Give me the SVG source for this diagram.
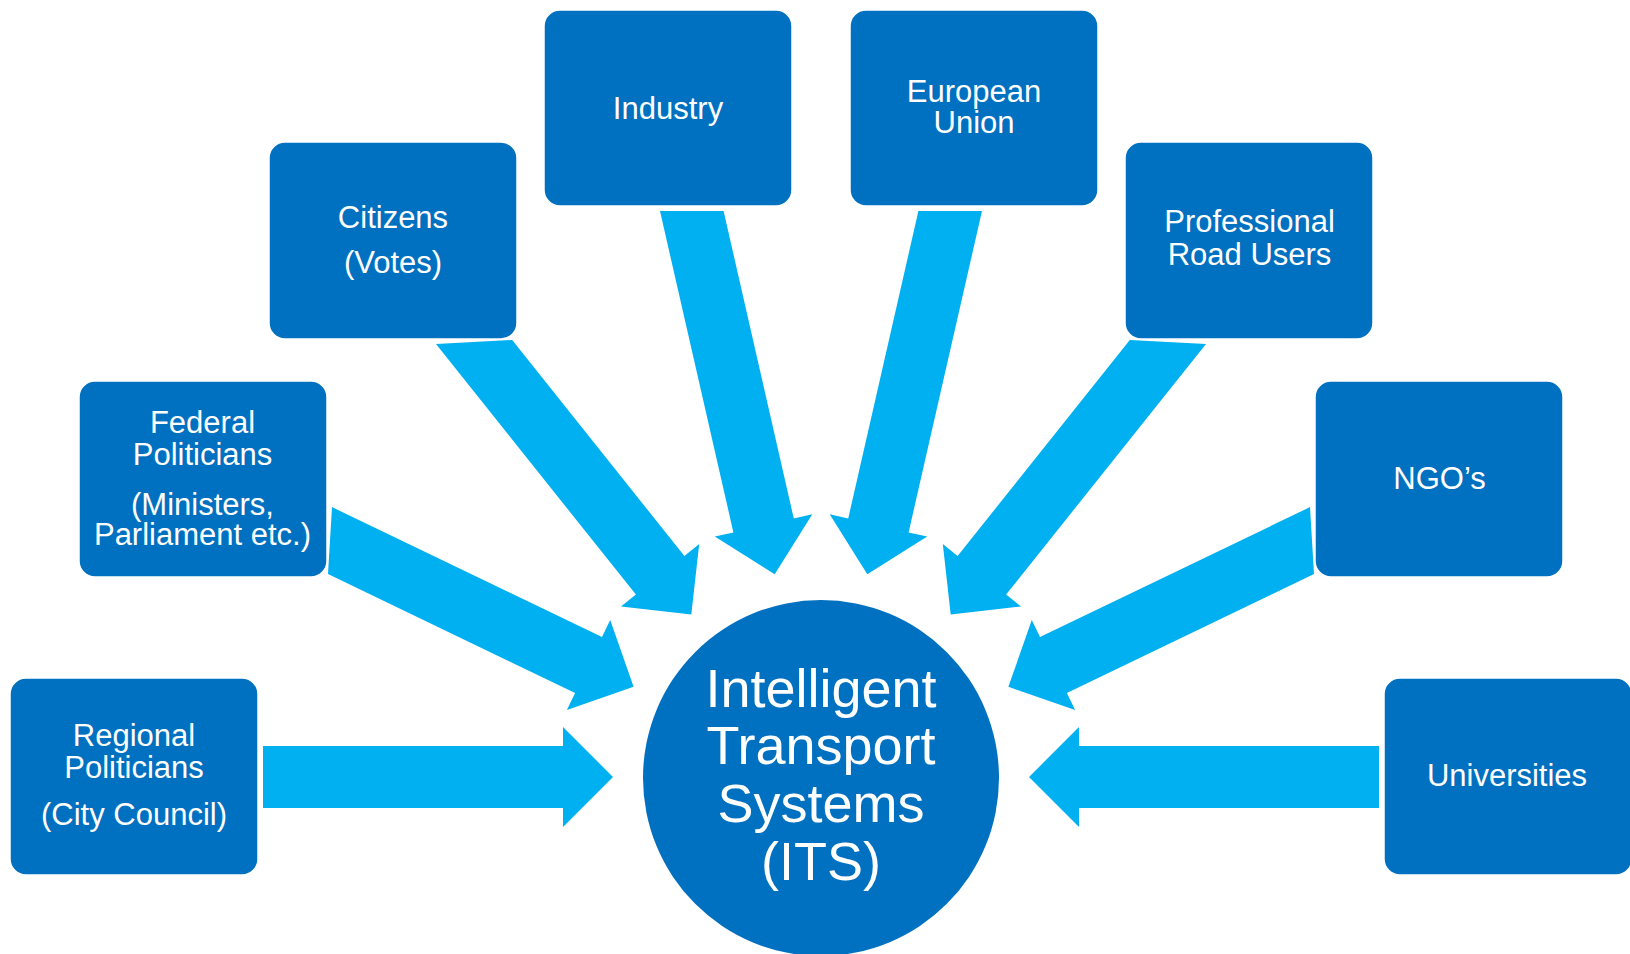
<svg xmlns="http://www.w3.org/2000/svg" width="1630" height="954" viewBox="0 0 1630 954">
<style>
.box{fill:#0070C0;stroke:#ffffff;stroke-width:1.5}
.arr{fill:#00B0F0}
.t{font-family:"Liberation Sans",Arial,sans-serif;font-size:31px;fill:#ffffff;text-anchor:middle}
.big{font-family:"Liberation Sans",Arial,sans-serif;font-size:54px;fill:#ffffff;text-anchor:middle}
</style>
<rect width="1630" height="954" fill="#ffffff"/>
<g id="connectors">
<polygon class="arr" points="263,746 563,746 563,727 613,777 563,827 563,808 263,808"/>
<polygon class="arr" points="332,507.1 602,637.1 610.2,620 633.6,686.8 566.9,710.1 575.1,693 328,574"/>
<polygon class="arr" points="436,344 512.2,340 684.4,556 699.2,544.1 691.3,614.4 621,606.5 635.9,594.6"/>
<polygon class="arr" points="660,211 723.6,211 793.8,518.6 812.3,514.3 774.7,574.2 714.8,536.6 733.4,532.4"/>
<polygon class="arr" points="982,211 918.4,211 848.2,518.6 829.7,514.3 867.3,574.2 927.2,536.6 908.6,532.4"/>
<polygon class="arr" points="1206,344 1129.8,340 957.6,556 942.8,544.1 950.7,614.4 1021,606.5 1006.1,594.6"/>
<polygon class="arr" points="1310,507.1 1040,637.1 1031.8,620 1008.4,686.8 1075.1,710.1 1066.9,693 1314,574"/>
<polygon class="arr" points="1379,746 1079,746 1079,727 1029,777 1079,827 1079,808 1379,808"/>
</g>
<g id="its">
<circle cx="821" cy="778" r="178" fill="#0070C0"/>
<text class="big" x="821" y="707">Intelligent</text>
<text class="big" x="821" y="764">Transport</text>
<text class="big" x="821" y="822">Systems</text>
<text class="big" x="821" y="880">(ITS)</text>
</g>
<g id="regional">
<rect class="box" x="10" y="678" width="248" height="197" rx="16"/>
<text class="t" x="134" y="746">Regional</text>
<text class="t" x="134" y="778">Politicians</text>
<text class="t" x="134" y="825">(City Council)</text>
</g>
<g id="federal">
<rect class="box" x="79" y="381" width="248" height="196" rx="16"/>
<text class="t" x="202.5" y="433">Federal</text>
<text class="t" x="202.5" y="465">Politicians</text>
<text class="t" x="202.5" y="515">(Ministers,</text>
<text class="t" x="202.5" y="545">Parliament etc.)</text>
</g>
<g id="citizens">
<rect class="box" x="269" y="142" width="248" height="197" rx="16"/>
<text class="t" x="393" y="228">Citizens</text>
<text class="t" x="393" y="273">(Votes)</text>
</g>
<g id="industry">
<rect class="box" x="544" y="10" width="248" height="196" rx="16"/>
<text class="t" x="668" y="119">Industry</text>
</g>
<g id="eu">
<rect class="box" x="850" y="10" width="248" height="196" rx="16"/>
<text class="t" x="974" y="102">European</text>
<text class="t" x="974" y="133">Union</text>
</g>
<g id="professional">
<rect class="box" x="1125" y="142" width="248" height="197" rx="16"/>
<text class="t" x="1249.5" y="232">Professional</text>
<text class="t" x="1249.5" y="265">Road Users</text>
</g>
<g id="ngos">
<rect class="box" x="1315" y="381" width="248" height="196" rx="16"/>
<text class="t" x="1439.5" y="489">NGO’s</text>
</g>
<g id="universities">
<rect class="box" x="1384" y="678" width="248" height="197" rx="16"/>
<text class="t" x="1507" y="786">Universities</text>
</g>
</svg>
